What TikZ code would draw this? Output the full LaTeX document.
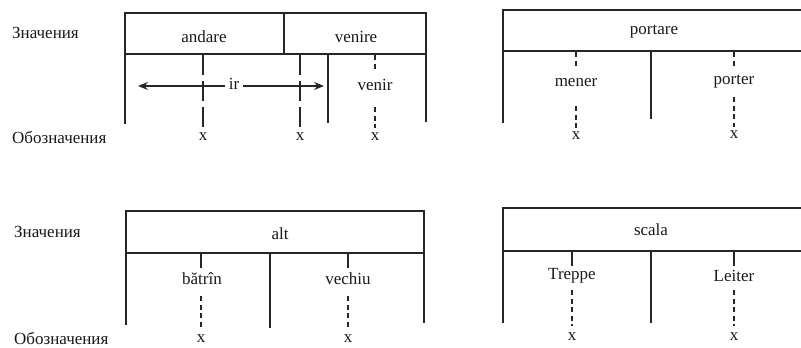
\documentclass[tikz,border=0pt]{standalone}
\usepackage{fontspec}
\setmainfont{Liberation Serif}
\usetikzlibrary{arrows.meta}
\begin{document}
\begin{tikzpicture}[x=1pt,y=-1pt,
  every node/.style={font=\fontsize{17}{20}\selectfont, inner sep=1pt, text=black!90},
  frame/.style={line width=1.5pt, draw=black!85},
  longdash/.style={line width=1.4pt, draw=black!85, dash pattern=on 20pt off 6pt},
  shortdash/.style={line width=1.4pt, draw=black!85, dash pattern=on 5pt off 3.5pt},
  tick/.style={line width=1.4pt, draw=black!85},
  arr/.style={line width=1.3pt, draw=black!85, -{Stealth[length=10pt,width=8pt,inset=3.5pt]}},
  side/.style={anchor=west}]
\useasboundingbox (0,0) rectangle (801,348);

% ---------- top left ----------
\node[side] (zn1) at (11,33) {Значения};
\node[side] (ob1) at (11,137) {Обозначения};
\coordinate (a1) at (125,13);
\coordinate (a2) at (426,13);
\coordinate (a3) at (125,54);
\coordinate (a4) at (426,54);
\draw[frame] (125,124) -- (a3) -- (a1) -- (a2) -- (a4) -- (426,122);
\draw[frame] (a3) -- (a4);
\draw[frame] (284,13) -- (284,54);
\draw[frame] (328,55) -- (328,123);
\node (andare) at (204,37) {andare};
\node (venire) at (356,37) {venire};
\node (x1) at (203,137) {x};
\node (x2) at (300,137) {x};
\node (x3) at (375,137) {x};
\node (venir) at (375,85) {venir};
\coordinate (d1) at (203,55);
\coordinate (d2) at (300,55);
\coordinate (d3) at (375,55);
\draw[longdash] (d1) -- (203,129);
\draw[longdash] (d2) -- (300,129);
\draw[shortdash] (d3) -- (375,72);
\draw[shortdash] (375,107) -- (375,128);
\node[inner sep=4pt] (ir) at (234,84) {ir};
\coordinate (irL) at (138,86);
\coordinate (irR) at (324,86);
\draw[arr] (ir.west |- irL) -- (irL);
\draw[arr] (ir.east |- irR) -- (irR);

% ---------- top right ----------
\coordinate (b1) at (503,10);
\coordinate (b2) at (801,10);
\coordinate (b3) at (503,51);
\coordinate (b4) at (801,51);
\draw[frame] (503,123) -- (b3) -- (b1) -- (b2);
\draw[frame] (b3) -- (b4);
\draw[frame] (651,52) -- (651,119);
\node (portare) at (654,32) {portare};
\node (mener) at (576,83) {mener};
\node (porter) at (734,82) {porter};
\node (x4) at (576,136) {x};
\node (x5) at (734,135) {x};
\draw[shortdash] (576,52) -- (576,67);
\draw[shortdash] (576,106) -- (576,128);
\draw[shortdash] (734,52) -- (734,68);
\draw[shortdash] (734,97) -- (734,127);

% ---------- bottom left ----------
\node[side] (zn2) at (13,232) {Значения};
\node[side] (ob2) at (13,338) {Обозначения};
\coordinate (c1) at (126,211);
\coordinate (c2) at (424,211);
\coordinate (c3) at (126,253);
\coordinate (c4) at (424,253);
\draw[frame] (126,325) -- (c3) -- (c1) -- (c2) -- (c4) -- (424,323);
\draw[frame] (c3) -- (c4);
\draw[frame] (270,254) -- (270,328);
\node (alt) at (280,234) {alt};
\node (batrin) at (202,279) {bătrîn};
\node (vechiu) at (348,279) {vechiu};
\node (x6) at (201,339) {x};
\node (x7) at (348,339) {x};
\draw[tick] (201,254) -- (201,268);
\draw[shortdash] (201,296) -- (201,329);
\draw[tick] (348,254) -- (348,268);
\draw[shortdash] (348,296) -- (348,329);

% ---------- bottom right ----------
\coordinate (e1) at (503,208);
\coordinate (e2) at (801,208);
\coordinate (e3) at (503,251);
\coordinate (e4) at (801,251);
\draw[frame] (503,323) -- (e3) -- (e1) -- (e2);
\draw[frame] (e3) -- (e4);
\draw[frame] (651,252) -- (651,323);
\node (scala) at (651,230) {scala};
\node (treppe) at (572,276) {Treppe};
\node (leiter) at (734,276) {Leiter};
\node (x8) at (572,337) {x};
\node (x9) at (734,337) {x};
\draw[tick] (572,252) -- (572,266);
\draw[shortdash] (572,290) -- (572,326);
\draw[tick] (734,252) -- (734,266);
\draw[shortdash] (734,290) -- (734,326);
\end{tikzpicture}
\end{document}
